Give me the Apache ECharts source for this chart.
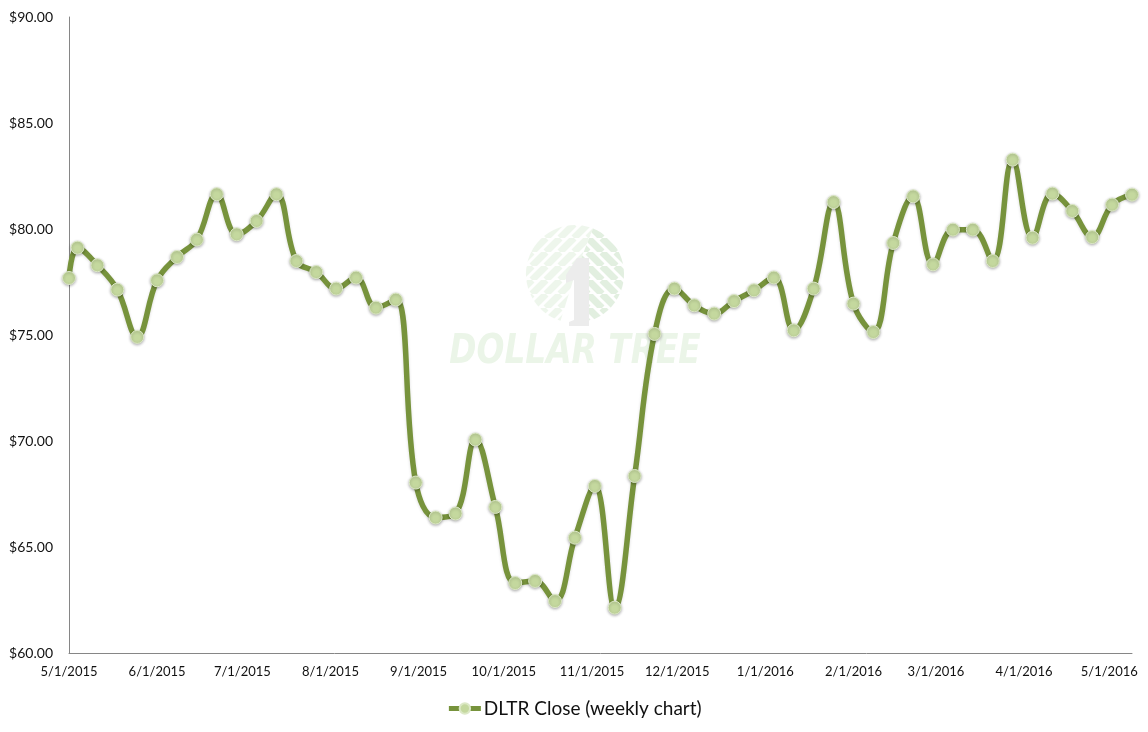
<!DOCTYPE html>
<html>
<head>
<meta charset="utf-8">
<title>DLTR Close (weekly chart)</title>
<script src="https://cdn.jsdelivr.net/npm/echarts@6.0.0/dist/echarts.min.js"></script>
<style>
html, body { margin: 0; padding: 0; background: #fff; }
#chart { width: 1148px; height: 732px; }
</style>
</head>
<body>
<div id="chart"></div>
<script>
// weekly closes
var weekDates = [
    '2015-05-01', '2015-05-04', '2015-05-11', '2015-05-18', '2015-05-25',
    '2015-06-01', '2015-06-08', '2015-06-15', '2015-06-22', '2015-06-29',
    '2015-07-06', '2015-07-13', '2015-07-20', '2015-07-27',
    '2015-08-03', '2015-08-10', '2015-08-17', '2015-08-24', '2015-08-31',
    '2015-09-07', '2015-09-14', '2015-09-21', '2015-09-28',
    '2015-10-05', '2015-10-12', '2015-10-19', '2015-10-26',
    '2015-11-02', '2015-11-09', '2015-11-16', '2015-11-23', '2015-11-30',
    '2015-12-07', '2015-12-14', '2015-12-21', '2015-12-28',
    '2016-01-04', '2016-01-11', '2016-01-18', '2016-01-25',
    '2016-02-01', '2016-02-08', '2016-02-15', '2016-02-22', '2016-02-29',
    '2016-03-07', '2016-03-14', '2016-03-21', '2016-03-28',
    '2016-04-04', '2016-04-11', '2016-04-18', '2016-04-25',
    '2016-05-02', '2016-05-09'
];
var closePrices = [
    77.69, 79.12, 78.29, 77.14, 74.91,
    77.58, 78.68, 79.50, 81.64, 79.75,
    80.38, 81.64, 78.49, 77.97,
    77.19, 77.71, 76.29, 76.67, 68.04,
    66.39, 66.58, 70.07, 66.89,
    63.30, 63.40, 62.45, 65.44,
    67.88, 62.14, 68.35, 75.05, 77.19,
    76.40, 76.01, 76.60, 77.11,
    77.71, 75.22, 77.19, 81.27,
    76.48, 75.14, 79.34, 81.54, 78.33,
    79.97, 79.97, 78.49, 83.27,
    79.59, 81.67, 80.85, 79.62,
    81.15, 81.62
];
// month-start tick labels on the date axis
var tickDates = [
    '2015-05-01', '2015-06-01', '2015-07-01', '2015-08-01', '2015-09-01',
    '2015-10-01', '2015-11-01', '2015-12-01', '2016-01-01', '2016-02-01',
    '2016-03-01', '2016-04-01', '2016-05-01'
];
var seriesName = 'DLTR Close (weekly chart)';

function toTime(s) {
    var p = s.split('-');
    return new Date(+p[0], +p[1] - 1, +p[2]).getTime();
}
function fmtDate(t) {
    var d = new Date(t);
    return (d.getMonth() + 1) + '/' + d.getDate() + '/' + d.getFullYear();
}

// striped fill for the faint logo watermark
function stripes(color, dir) {
    var c = document.createElement('canvas');
    c.width = 14; c.height = 14;
    var ctx = c.getContext('2d');
    ctx.fillStyle = '#ffffff';
    ctx.fillRect(0, 0, 14, 14);
    ctx.strokeStyle = color;
    ctx.lineWidth = 7;
    ctx.beginPath();
    for (var k = -2; k <= 2; k++) {
        if (dir > 0) {
            ctx.moveTo(k * 14, 14); ctx.lineTo(k * 14 + 14, 0);
        } else {
            ctx.moveTo(k * 14, 0); ctx.lineTo(k * 14 + 14, 14);
        }
    }
    ctx.stroke();
    return c;
}

var lineData = [];
for (var i = 0; i < weekDates.length; i++) {
    lineData.push([toTime(weekDates[i]), closePrices[i]]);
}

var myChart = echarts.init(document.getElementById('chart'));
var option = {
    animation: false,
    backgroundColor: '#fff',
    textStyle: { fontFamily: 'Lato' },
    grid: { left: 69, right: 16, top: 17, bottom: 79, containLabel: false },
    legend: {
        data: [seriesName],
        left: 'center',
        top: 694,
        itemWidth: 32,
        itemHeight: 13,
        lineStyle: { width: 5 },
        textStyle: { fontSize: 19, color: '#111', fontFamily: 'Lato', padding: [0, 0, 0, -2] }
    },
    graphic: [
        {
            type: 'sector', z: -1, silent: true,
            shape: { cx: 575, cy: 274, r: 49, r0: 0, startAngle: Math.PI * 0.5 + 0.3, endAngle: Math.PI * 1.62 },
            style: { fill: { image: stripes('#eef6ec', 1), repeat: 'repeat' } }
        },
        {
            type: 'sector', z: -1, silent: true,
            shape: { cx: 575, cy: 274, r: 49, r0: 0, startAngle: Math.PI * 1.62, endAngle: Math.PI * 2.5 - 0.3 },
            style: { fill: { image: stripes('#e2efe0', -1), repeat: 'repeat' } }
        },
        {
            type: 'polygon', z: -1, silent: true,
            shape: { points: [[577, 258], [589, 258], [589, 326], [569, 326], [569, 322], [574, 320], [574, 280], [566, 283], [566, 275]] },
            style: { fill: '#ececec' }
        },
        {
            type: 'text', z: -1, silent: true,
            x: 575, y: 353, scaleX: 0.82,
            style: {
                text: 'DOLLAR TREE', fill: '#ebf5e8',
                font: 'italic bold 40px "DejaVu Sans"',
                align: 'center', verticalAlign: 'middle'
            }
        }
    ],
    xAxis: {
        type: 'value',
        min: toTime('2015-05-01'),
        max: toTime('2016-05-09'),
        splitLine: { show: false },
        axisTick: { show: false },
        axisLine: { lineStyle: { color: '#868686', width: 1 } },
        axisLabel: {
            customValues: tickDates.map(toTime),
            formatter: function (v) { return fmtDate(v); },
            color: '#111',
            fontSize: 13,
            margin: 12,
            showMinLabel: true,
            showMaxLabel: true
        }
    },
    yAxis: {
        type: 'value',
        min: 60,
        max: 90,
        interval: 5,
        splitLine: { show: false },
        axisTick: { show: false },
        axisLine: { show: true, lineStyle: { color: '#868686', width: 1 } },
        axisLabel: {
            formatter: function (v) { return '$' + v.toFixed(2); },
            color: '#111',
            fontSize: 14,
            margin: 16
        }
    },
    series: [
        {
            name: seriesName,
            type: 'line',
            data: lineData,
            smooth: 0.4,
            symbol: 'circle',
            symbolSize: 13,
            lineStyle: {
                color: '#77933c',
                width: 5.5,
                shadowColor: 'rgba(0,0,0,0.15)',
                shadowBlur: 3,
                shadowOffsetY: 1
            },
            itemStyle: {
                color: '#c4d89e',
                borderColor: '#dce8c6',
                borderWidth: 1,
                shadowColor: 'rgba(0,0,0,0.3)',
                shadowBlur: 3,
                shadowOffsetY: 1
            }
        }
    ]
};
myChart.setOption(option);
window.addEventListener('resize', function () { myChart.resize(); });
</script>
</body>
</html>
